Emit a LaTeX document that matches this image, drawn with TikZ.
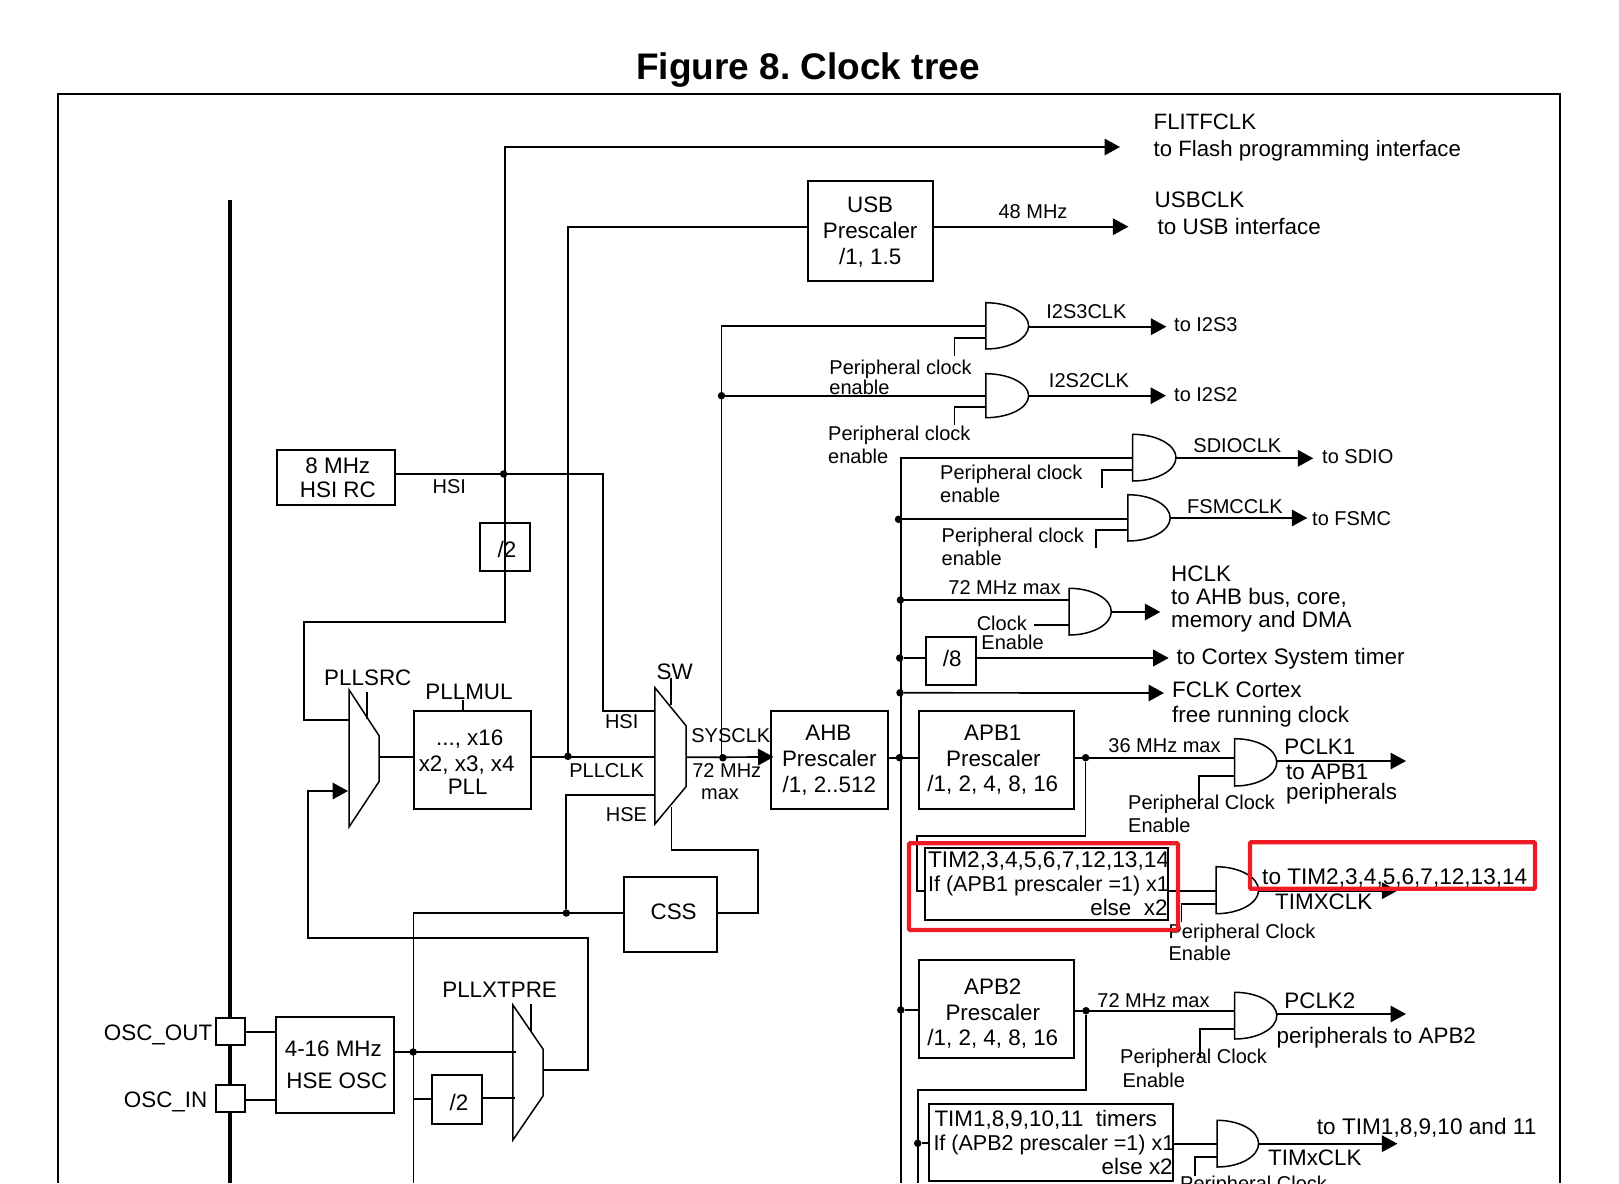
\documentclass[tikz,border=0pt]{standalone}
\usepackage{fontspec}
\setmainfont{Liberation Sans}
\usetikzlibrary{arrows.meta}
\AtBeginDocument{\frenchspacing}

\definecolor{markred}{HTML}{ED1C24}

\tikzset{
  wire/.style={line width=1.7pt,line join=miter},
  arr/.style={wire,-{Triangle[length=15.5pt,width=16.5pt]}},
  gateline/.style={line width=1.5pt},
  box/.style={draw,line width=2pt,inner sep=0pt,outer sep=0pt,align=center,
              font=\fontsize{22.4}{25.8}\selectfont},
  padbox/.style={box,fill=white},
  dot/.style={circle,fill=black,inner sep=0pt,minimum size=7.5pt},
  lab/.style={font=\fontsize{22.4}{26}\selectfont,inner sep=0pt,text height=16pt,text depth=0pt},
  labs/.style={font=\fontsize{20}{24}\selectfont,inner sep=0pt,text height=14.4pt,text depth=0pt},
  mlb/.style={font=\fontsize{22.4}{#1}\selectfont,align=left,inner sep=0pt,anchor=west},
  mls/.style={font=\fontsize{20}{#1}\selectfont,align=left,inner sep=0pt,anchor=west},
  markbox/.style={draw=markred,line width=4.2pt,inner sep=0pt,rounded corners=1pt},
}

% AND gate: name, left x, right x, top y, bottom y, input a y, input b y, output y
\newcommand{\andgate}[8]{%
  \draw[gateline] (#2,#4)
    .. controls ({#2+0.55*(#3-#2)},#4) and (#3,{#4+0.225*(#5-#4)}) .. (#3,{0.5*(#4+#5)})
    .. controls (#3,{#4+0.775*(#5-#4)}) and ({#2+0.55*(#3-#2)},#5) .. (#2,#5) -- cycle;
  \coordinate (#1-a) at (#2,#6);
  \coordinate (#1-b) at (#2,#7);
  \coordinate (#1-o) at (#3,#8);
}
% Multiplexer outline: left x, right x, top y, upper right y, lower right y, bottom y
\newcommand{\muxshape}[6]{%
  \draw[gateline] (#1,#3) -- (#2,#4) -- (#2,#5) -- (#1,#6) -- cycle;
}
% Text inside a box sits lower (first-line height) or higher (last-line depth)
\newcommand{\linetop}[1]{\rule{0pt}{#1}}
\newcommand{\linebot}[1]{\rule[-#1]{0pt}{#1}}
\newcommand{\narrowline}[1]{{\fontsize{21.5}{24.7}\selectfont #1}}

\begin{document}
\begin{tikzpicture}[x=1pt,y=-1pt]
\useasboundingbox (0,0) rectangle (1619,1183);
\clip (0,0) rectangle (1619,1183);

% Title and frame
\node[font=\fontsize{37}{42}\selectfont\bfseries,inner sep=0pt] (title) at (808,70) {Figure 8. Clock tree};
\coordinate (frameBL) at (58,1183);
\coordinate (frameBR) at (1560,1183);
\draw[line width=2pt] (frameBL) |- (frameBR |- 0,94) -- (frameBR);

% Pin rail
\coordinate (railTop) at (230,200);
\coordinate (railEnd) at (230,1183);
\draw[line width=3.6pt] (railTop) -- (railEnd);

% Blocks
\node[box,minimum width=118.3pt,minimum height=55pt,font=\fontsize{22.4}{24}\selectfont] (hsirc) at (335.85,477.5) {\hspace*{4pt}8 MHz\\\hspace*{4pt}HSI RC};
\node[box,minimum width=50pt,minimum height=48.3pt] (divA) at (505,546.85) {\hspace*{4pt}\linetop{22pt}/2};
\node[box,minimum width=116.6pt,minimum height=98pt] (pll) at (472.7,760) {\hspace*{-6pt}\linetop{20.8pt}..., x16\\\hspace*{-12pt}x2, x3, x4\\[-2.6pt]\hspace*{-10pt}PLL};
\node[box,minimum width=116.7pt,minimum height=98pt] (ahb) at (829.35,760) {\hspace*{-2pt}AHB\\Prescaler\\/1, 2..512};
\node[box,minimum width=124.9pt,minimum height=100.3pt] (usb) at (870.15,230.85) {\linetop{18pt}USB\\Prescaler\\/1, 1.5};
\node[box,minimum width=93.3pt,minimum height=75.6pt] (css) at (670.65,914.5) {\hspace*{6pt}CSS\linebot{6pt}};
\node[box,minimum width=118.3pt,minimum height=95.7pt,font=\fontsize{22.4}{32.5}\selectfont] (hse) at (334.85,1064.85) {\hspace*{-3pt}4-16 MHz\\\hspace*{4pt}HSE OSC};
\node[padbox,minimum width=29.7pt,minimum height=27.3pt] (oscout) at (230.55,1031.35) {};
\node[padbox,minimum width=29.7pt,minimum height=27.6pt] (oscin) at (230.55,1098.5) {};
\node[box,minimum width=50.2pt,minimum height=49pt] (divB) at (456.9,1099.5) {\hspace*{4pt}\linetop{22pt}/2};
\node[box,minimum width=50.2pt,minimum height=48.3pt] (div8) at (951.1,660.85) {\hspace*{2pt}/8\linebot{5pt}};
\node[box,minimum width=154.8pt,minimum height=98.3pt] (apb1) at (996.4,759.85) {\hspace*{-7.2pt}APB1\\\hspace*{-6pt}Prescaler\\\hspace*{-7.2pt}/1, 2, 4, 8, 16};
\node[box,minimum width=154.8pt,minimum height=97.7pt] (apb2) at (996.4,1008.85) {\hspace*{-7.2pt}\linetop{25.4pt}APB2\\\hspace*{-7.2pt}Prescaler\\\hspace*{-7.2pt}/1, 2, 4, 8, 16};
\node[box,minimum width=242.8pt,minimum height=72.3pt,font=\fontsize{22.4}{24.2}\selectfont] (timA) at (1046.1,883.85)
  {\makebox[242.8pt][l]{\hspace{3.4pt}\fontsize{22.7}{24.2}\selectfont TIM2,3,4,5,6,7,12,13,14}\\
   \makebox[242.8pt][l]{\hspace{3.4pt}\narrowline{If (APB1 prescaler =1) x1}}\\
   \makebox[242.8pt][r]{else\ \ x2}};
\node[box,minimum width=243.7pt,minimum height=76.7pt,font=\fontsize{22.4}{23.8}\selectfont] (timB) at (1050.85,1142.65)
  {\makebox[243.7pt][l]{\hspace{5.5pt}TIM1,8,9,10,11\ \ timers}\\
   \makebox[243.7pt][l]{\hspace{4.5pt}\narrowline{If (APB2 prescaler =1) x1}}\\
   \makebox[243.7pt][r]{else x2}};

% Gates
\andgate{gThree}{985.8}{1028.6}{302.7}{349}{326}{338}{326.7}
\andgate{gTwo}{985.8}{1028.6}{373.7}{417.7}{395.7}{407}{395.7}
\andgate{gSdio}{1132.7}{1176}{434.3}{481}{458.3}{470.3}{458.3}
\andgate{gFsmc}{1127.8}{1170.2}{494.7}{541}{519.3}{530.3}{518}
\andgate{gHclk}{1069.2}{1111.3}{588.3}{635}{600}{625}{612}
\andgate{gPone}{1234.7}{1276.8}{738.7}{786}{757.7}{776}{761}
\andgate{gTimA}{1216}{1258.6}{866.7}{913.7}{891}{903.7}{890.7}
\andgate{gPtwo}{1234.7}{1276.8}{992.3}{1039}{1010.7}{1029}{1014}
\andgate{gTimB}{1217}{1258.6}{1120.3}{1167}{1143.7}{1157}{1143.7}

% Multiplexers
\muxshape{349.2}{379.2}{690}{736}{781.3}{826.7}
\muxshape{654.9}{686}{687.7}{725.7}{786.7}{824}
\muxshape{512.9}{543.2}{1005}{1049.3}{1095.7}{1140}

% Junction dots
\node[dot] (dHsi) at (503.6,474) {};
\node[dot] (dPll) at (567.9,756.3) {};
\node[dot] (dSys) at (722.9,757.8) {};
\node[dot] (dI2s) at (721.5,395.7) {};
\node[dot] (dBusF) at (898.5,519.3) {};
\node[dot] (dBusH) at (900.4,600) {};
\node[dot] (dBusE) at (899.7,658) {};
\node[dot] (dBusC) at (900,692.8) {};
\node[dot] (dBusA) at (899.5,757.7) {};
\node[dot] (dBusB) at (900.8,1010) {};
\node[dot] (dPone) at (1085.6,757.7) {};
\node[dot] (dPtwo) at (1086,1010.7) {};
\node[dot] (dTimB) at (917.7,1143.3) {};
\node[dot] (dCss) at (566.3,913) {};
\node[dot] (dHse) at (413.2,1052) {};

% Connector ends
\coordinate (flitEnd) at (1120,147);
\coordinate (usbEnd) at (1128.4,226.7);
\coordinate (threeEnd) at (1166.4,326.7);
\coordinate (twoEnd) at (1166,395.7);
\coordinate (sdioEnd) at (1313.3,458.3);
\coordinate (fsmcEnd) at (1307.3,518);
\coordinate (hclkEnd) at (1160.3,612);
\coordinate (cortexEnd) at (1168.7,658);
\coordinate (fclkEnd) at (1164,693);
\coordinate (poneEnd) at (1406,761);
\coordinate (timAEnd) at (1397.4,890.7);
\coordinate (ptwoEnd) at (1406,1014);
\coordinate (timBEnd) at (1397.4,1143.7);
\coordinate (busEnd) at (901,1183);
\coordinate (apbTwoDrop) at (918.3,1183);
\coordinate (hseEnd) at (413.6,1183);
\coordinate (srcIn) at (349.2,720);
\coordinate (srcClk) at (348,791);
\coordinate (srcOut) at (379.2,757.3);
\coordinate (swHsi) at (654.9,711);
\coordinate (swPll) at (654.9,757.3);
\coordinate (swHse) at (654.9,795);
\coordinate (swOut) at (686,757.3);
\coordinate (swCss) at (671.5,806.7);
\coordinate (ahbIn) at (773.5,757);
\coordinate (xtpOne) at (515.7,1052);
\coordinate (xtpTwo) at (514.6,1098);
\coordinate (xtpOut) at (543.2,1070);
\coordinate (hseTap) at (413.6,1098.7);
\coordinate (oscoutIn) at (246.4,1031.7);
\coordinate (oscinIn) at (246.4,1100);
\coordinate (enThree) at (954.4,356);
\coordinate (enTwo) at (954.4,425);
\coordinate (enSdio) at (1101.7,488.3);
\coordinate (enFsmc) at (1096,548.3);
\coordinate (enHclk) at (1033.6,625);
\coordinate (enPone) at (1199.2,808);
\coordinate (enTimA) at (1181.4,922.3);
\coordinate (enPtwo) at (1200,1056.7);
\coordinate (enTimB) at (1195.3,1175.7);

% HSI paths
\draw[wire] (hsirc.east |- dHsi) -- (602.7,474) -- (602.7,711) -- (swHsi);
\draw[arr] (divA.south) -- (505,147) -- (flitEnd);
\draw[wire] (divA.south) -- (505,622.3) -- (303.7,622.3) -- (303.7,720) -- (srcIn);

% PLL paths
\draw[wire] (srcOut) -- (pll.west |- srcOut);
\draw[wire] (pll.east |- swPll) -- (swPll);
\draw[wire] (568,757.3) -- (568,226.7) -- (usb.west |- usbEnd);
\draw[arr] (usb.east |- usbEnd) -- (usbEnd);
\draw[wire] (463,700.3) -- (pll.north -| 463,0);

% Select lines
\draw[wire] (367,692.3) -- (367,719.3);
\draw[wire] (670.7,677.7) -- (670.7,705);
\draw[wire] (531,1004.3) -- (531,1032.3);

% System clock and its branches
\draw[arr] (swOut) -- (ahbIn);
\draw[wire] (721.5,757.3) -- (721.5,326) -- (gThree-a);
\draw[wire] (dI2s) -- (gTwo-a);
\draw[wire] (gThree-b) -| (enThree);
\draw[wire] (gTwo-b) -| (enTwo);
\draw[arr] (gThree-o) -- (threeEnd);
\draw[arr] (gTwo-o) -- (twoEnd);

% AHB clock bus
\draw[wire] (ahb.east |- dBusA) -- (apb1.west |- dBusA);
\draw[wire] (gSdio-a) -| (busEnd);
\draw[wire] (gSdio-b) -| (enSdio);
\draw[arr] (gSdio-o) -- (sdioEnd);
\draw[wire] (dBusF) -- (gFsmc-a);
\draw[wire] (gFsmc-b) -| (enFsmc);
\draw[arr] (gFsmc-o) -- (fsmcEnd);
\draw[wire] (dBusH) -- (gHclk-a);
\draw[wire] (enHclk) -- (gHclk-b);
\draw[arr] (gHclk-o) -- (hclkEnd);
\draw[wire] (dBusE) -- (div8.west |- dBusE);
\draw[arr] (div8.east |- cortexEnd) -- (cortexEnd);
\draw[arr] (dBusC) -- (fclkEnd);

% APB1 branch
\draw[wire] (apb1.east |- dPone) -- (gPone-a);
\draw[wire] (gPone-b) -| (enPone);
\draw[arr] (gPone-o) -- (poneEnd);
\draw[wire] (dPone) -- (1085.6,836) -- (916.9,836) -- (916.9,891) -- (timA.west |- gTimA-a);
\draw[wire] (timA.east |- gTimA-a) -- (gTimA-a);
\draw[wire] (gTimA-b) -| (enTimA);
\draw[arr] (gTimA-o) -- (timAEnd);

% APB2 branch
\draw[wire] (dBusB) -- (apb2.west |- dBusB);
\draw[wire] (apb2.east |- dPtwo) -- (gPtwo-a);
\draw[wire] (gPtwo-b) -| (enPtwo);
\draw[arr] (gPtwo-o) -- (ptwoEnd);
\draw[wire] (dPtwo) -- (1086,1089.7) -- (918.3,1089.7) -- (apbTwoDrop);
\draw[wire] (dTimB) -- (timB.west |- dTimB);
\draw[wire] (timB.east |- gTimB-a) -- (gTimB-a);
\draw[wire] (gTimB-b) -| (enTimB);
\draw[arr] (gTimB-o) -- (timBEnd);

% Security system and HSE paths
\draw[wire] (css.east |- dCss) -- (757.7,913) -- (757.7,850) -- (671.5,850) -- (swCss);
\draw[wire] (css.west |- dCss) -- (413.6,913) -- (hseEnd);
\draw[wire] (dCss) -- (566.3,795) -- (swHse);
\draw[wire] (oscoutIn) -- (hse.west |- oscoutIn);
\draw[wire] (oscinIn) -- (hse.west |- oscinIn);
\draw[wire] (hse.east |- dHse) -- (xtpOne);
\draw[wire] (hseTap) -- (divB.west |- hseTap);
\draw[wire] (divB.east |- xtpTwo) -- (xtpTwo);
\draw[arr] (xtpOut) -- (587.9,1070) -- (587.9,937.7) -- (307.7,937.7) -- (307.7,791) -- (srcClk);

% Left-hand labels
\node[lab,anchor=east] (lOscOut) at (212.4,1032) {OSC\_OUT};
\node[lab,anchor=east] (lOscIn) at (207.5,1099.3) {OSC\_IN};
\node[labs] (lHsiA) at (449.3,486) {HSI};
\node[lab] (lSrc) at (367.8,677.7) {PLLSRC};
\node[lab] (lMul) at (469,691.7) {PLLMUL};
\node[lab] (lXtp) at (499.6,989.3) {PLLXTPRE};
\node[lab] (lSw) at (674.6,671.7) {SW};
\node[labs] (lHsiB) at (621.7,721) {HSI};
\node[labs] (lPllClk) at (606.6,770) {PLLCLK};
\node[labs] (lHse) at (626.4,814) {HSE};
\node[labs] (lSys) at (730.8,735.3) {SYSCLK};
\node[labs] (lSysMax) at (726.8,770) {72 MHz};
\node[labs] (lSysMaxB) at (720,792.7) {max};

% Top outputs
\node[mlb=26.3,font=\fontsize{22.2}{26.3}\selectfont] (lFlit) at (1153.5,137.6) {FLITFCLK\\to Flash programming interface};
\node[mlb=26.8] (lUsb) at (1154.5,213.5) {USBCLK\\\hspace*{3pt}to USB interface};
\node[labs] (lUsbF) at (1033,211.3) {48 MHz};

% Peripheral clock outputs
\node[labs] (lThree) at (1086.4,311.7) {I2S3CLK};
\node[labs] (lTwo) at (1089,380.3) {I2S2CLK};
\node[labs,anchor=west] (lToThree) at (1174,324) {to I2S3};
\node[labs,anchor=west] (lToTwo) at (1174,394) {to I2S2};
\node[mls=20] (lEnThree) at (829.2,377.3) {Peripheral clock\\enable};
\node[mls=23.4] (lEnTwo) at (828,445) {Peripheral clock\\enable};
\node[labs] (lSdio) at (1237.3,445) {SDIOCLK};
\node[labs,anchor=west] (lToSdio) at (1322,456) {to SDIO};
\node[mls=23.4] (lEnSdio) at (940,484) {Peripheral clock\\enable};
\node[labs] (lFsmc) at (1235,506) {FSMCCLK};
\node[labs,anchor=west] (lToFsmc) at (1312,518.7) {to FSMC};
\node[mls=23.4] (lEnFsmc) at (941.5,547) {Peripheral clock\\enable};
\node[labs] (lHclkMax) at (1004.5,587.3) {72 MHz max};
\node[labs] (lClk) at (1001.8,623.3) {Clock};
\node[labs] (lEnb) at (1012.6,642.7) {Enable};
\node[mlb=23] (lHclk) at (1171,598.5) {HCLK\\to AHB bus, core,\\memory and DMA};
\node[lab,anchor=west] (lCortex) at (1176.5,656.7) {to Cortex System timer};
\node[mlb=25.6] (lFclk) at (1172,704.3) {FCLK Cortex\\free running clock};

% APB outputs
\node[labs] (lPoneMax) at (1164.5,745.3) {36 MHz max};
\node[lab,anchor=west] (lPone) at (1284.2,746.7) {PCLK1};
\node[mlb=19.4] (lToPone) at (1286,784) {to APB1\\peripherals};
\node[mls=23] (lEnPone) at (1128,813.8) {Peripheral Clock\\Enable};
\node[lab,anchor=west,font=\fontsize{22.6}{26}\selectfont] (lToTimA) at (1262,876.7) {to TIM2,3,4,5,6,7,12,13,14};
\node[lab,anchor=west] (lTimA) at (1275,901.3) {TIMXCLK};
\node[mls=22.4] (lEnTimA) at (1168.4,942.5) {Peripheral Clock\\Enable};
\node[labs] (lPtwoMax) at (1153.5,1000.7) {72 MHz max};
\node[lab,anchor=west] (lPtwo) at (1284.2,1000.5) {PCLK2};
\node[lab,anchor=west] (lToPtwo) at (1276.5,1035.7) {peripherals to APB2};
\node[labs,anchor=west] (lEnPtwoA) at (1120,1056.7) {Peripheral Clock};
\node[labs,anchor=west] (lEnPtwoB) at (1122.4,1080.3) {Enable};
\node[lab,anchor=west,font=\fontsize{22.6}{26}\selectfont] (lToTimB) at (1316.7,1126.7) {to TIM1,8,9,10 and 11};
\node[lab,anchor=west] (lTimB) at (1268,1157.3) {TIMxCLK};
\node[labs,anchor=west] (lEnTimB) at (1180,1183) {Peripheral Clock};

% Red markings
\node[markbox,minimum width=269pt,minimum height=86.7pt] (markA) at (1043.5,886.6) {};
\node[markbox,minimum width=285pt,minimum height=46.4pt] (markB) at (1392.5,865.5) {};
\end{tikzpicture}
\end{document}
